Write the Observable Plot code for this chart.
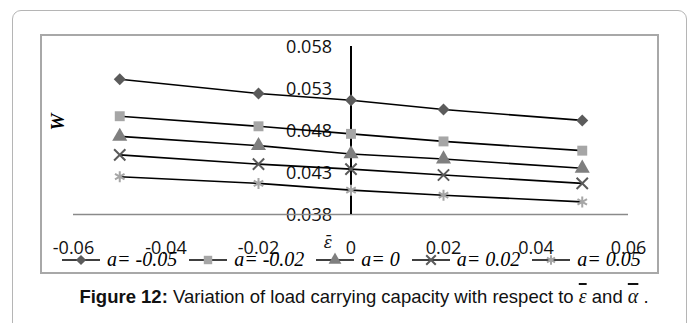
<!DOCTYPE html>
<html>
<head>
<meta charset="utf-8">
<script src="https://cdn.jsdelivr.net/npm/d3@7"></script>
<script src="https://cdn.jsdelivr.net/npm/@observablehq/plot@0.6"></script>
<style>
  html, body { margin: 0; padding: 0; background: #fff; }
  body { width: 696px; height: 323px; position: relative; overflow: hidden; }
  #outer { position: absolute; left: 12px; top: 10px; width: 675px; height: 400px;
           border: 1px solid #b5b5b5; border-radius: 9px; box-sizing: border-box; }
  #box { position: absolute; left: 40px; top: 34px; width: 619px; height: 240px;
         border: 2px solid #a8a8a8; box-sizing: border-box; }
  #chart { position: absolute; left: 0; top: 0; }
  #legend { position: absolute; left: 62px; top: 248px; display: flex; align-items: center; gap: 12px;
            font-family: "Liberation Serif", serif; font-style: italic; font-size: 20px; white-space: nowrap; }
  #legend .item { display: flex; align-items: center; }
  #legend .item span { margin-left: 7px; }
  #caption { position: absolute; left: 12px; top: 285px; width: 676px; text-align: center; padding-left: 28px; box-sizing: border-box;
             font-family: "Liberation Sans", Arial, sans-serif; font-size: 18.5px; color: #111; white-space: nowrap; }
  #caption .g { font-family: "Liberation Serif", serif; font-style: italic; font-size: 20px; text-decoration: overline; }
</style>
</head>
<body>
<div id="outer"></div>
<div id="box"></div>
<div id="chart"></div>
<div id="legend"></div>
<div id="caption"><b>Figure 12:</b> Variation of load carrying capacity with respect to <span class="g">ε</span> and <span class="g">α</span> .</div>
<script>
// ---- data ----
const eps = [-0.05, -0.02, 0, 0.02, 0.05];
const seriesNames = ["a= -0.05", "a= -0.02", "a= 0", "a= 0.02", "a= 0.05"];
const w_m005 = [0.0541, 0.0524, 0.0516, 0.0505, 0.0492];
const w_m002 = [0.0497, 0.0485, 0.0476, 0.0467, 0.0456];
const w_0    = [0.0473, 0.0462, 0.0452, 0.0446, 0.0435];
const w_p002 = [0.0451, 0.0440, 0.0434, 0.0427, 0.0417];
const w_p005 = [0.0425, 0.0417, 0.0409, 0.0403, 0.0395];
const yTicks = [0.038, 0.043, 0.048, 0.053, 0.058];
const xTicks = [-0.06, -0.04, -0.02, 0, 0.02, 0.04, 0.06];

const seriesValues = [w_m005, w_m002, w_0, w_p002, w_p005];
const symbols = ["diamond2", "square", "triangle", "times", "asterisk"];
const colors = ["#5b5b5b", "#a6a6a6", "#7f7f7f", "#5a5a5a", "#a6a6a6"];
const filled = [true, true, true, false, false];
const radii = [5.4, 5.6, 5.6, 5.2, 5.2];

const rows = [];
seriesValues.forEach((vals, i) => vals.forEach((v, j) => rows.push({series: seriesNames[i], eps: eps[j], w: v})));

const dotMarks = seriesNames.map((name, i) =>
  Plot.dot(rows.filter(d => d.series === name), {
    x: "eps", y: "w", symbol: symbols[i], r: radii[i],
    fill: filled[i] ? colors[i] : "none",
    stroke: filled[i] ? "none" : colors[i],
    strokeWidth: filled[i] ? 0 : 2
  })
);

const chart = Plot.plot({
  width: 696, height: 280,
  marginLeft: 73, marginRight: 68, marginTop: 46, marginBottom: 66,
  x: {domain: [-0.06, 0.06], axis: null},
  y: {domain: [0.038, 0.058], axis: null},
  style: {fontFamily: "'Open Sans', sans-serif", background: "transparent", overflow: "visible"},
  marks: [
    Plot.text(yTicks, {x: 0, y: d => d, text: d => String(d), textAnchor: "end", dx: -19, dy: 1,
      fontSize: 18, fill: "#111"}),
    Plot.text(xTicks, {x: d => d, text: d => String(d), frameAnchor: "bottom", lineAnchor: "middle", dy: 34,
      fontSize: 18, fill: "#111"}),
    Plot.ruleY([0.038], {x1: -0.06, x2: 0.06, stroke: "#8a8a8a", strokeWidth: 1.5}),
    Plot.ruleX([0], {y1: 0.038, y2: 0.058, stroke: "#000", strokeWidth: 2}),
    Plot.line(rows, {x: "eps", y: "w", z: "series", stroke: "#000", strokeWidth: 1.6}),
    ...dotMarks,
    Plot.text(["W"], {frameAnchor: "left", dx: -16, rotate: -90, fontFamily: "'Liberation Serif', serif",
      fontStyle: "italic", fontWeight: "bold", fontSize: 19, fill: "#000"}),
    Plot.text([0], {x: d => d, text: () => "ε̄", frameAnchor: "bottom", lineAnchor: "middle", dx: -23, dy: 28,
      fontFamily: "'DejaVu Serif', serif", fontStyle: "italic", fontSize: 16, fill: "#111"})
  ]
});
document.getElementById("chart").appendChild(chart);

// ---- legend ----
const legend = d3.select("#legend");
const symMap = {diamond2: d3.symbolDiamond2, square: d3.symbolSquare, triangle: d3.symbolTriangle,
  times: d3.symbolTimes, asterisk: d3.symbolAsterisk};
seriesNames.forEach((name, i) => {
  const item = legend.append("div").attr("class", "item");
  const svg = item.append("svg").attr("width", 38).attr("height", 16);
  svg.append("line").attr("x1", 0).attr("x2", 38).attr("y1", 8).attr("y2", 8)
    .attr("stroke", "#000").attr("stroke-width", 1.6);
  const r = radii[i] * 0.85;
  svg.append("path")
    .attr("transform", "translate(19,8)")
    .attr("d", d3.symbol(symMap[symbols[i]], Math.PI * r * r)())
    .attr("fill", filled[i] ? colors[i] : "none")
    .attr("stroke", filled[i] ? "none" : colors[i])
    .attr("stroke-width", filled[i] ? 0 : 2);
  item.append("span").text(name);
});
</script>
</body>
</html>
